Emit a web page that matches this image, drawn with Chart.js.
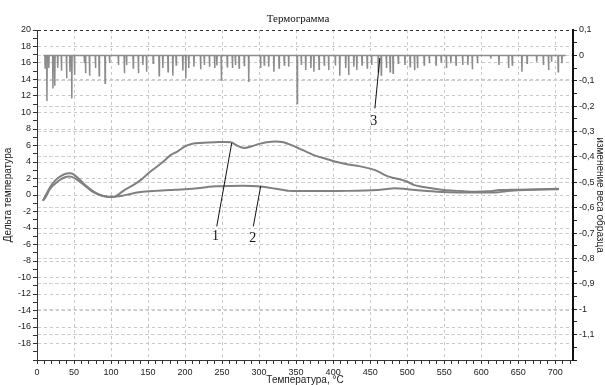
<!DOCTYPE html>
<html>
<head>
<meta charset="utf-8">
<script src="https://cdn.jsdelivr.net/npm/chart.js@4/dist/chart.umd.min.js"></script>
<style>
  html, body { margin: 0; padding: 0; background: #fff; }
  #wrap { width: 605px; height: 385px; }
</style>
</head>
<body>
<div id="wrap"><canvas id="chart" width="605" height="385"></canvas></div>
<script>
// Curve 1 - upper DTA curve (left axis)
const temps1 = [8, 12, 18, 25, 32, 40, 47, 55, 65, 75, 85, 95, 105, 112, 120, 130, 140, 150, 160, 170,
  180, 190, 200, 210, 220, 240, 262, 270, 280, 290, 300, 310, 322, 333, 345, 355, 365, 375, 390, 405,
  420, 435, 450, 460, 470, 480, 490, 500, 510, 520, 535, 550, 570, 590, 610, 625, 650, 680, 705];
const deltaT1 = [-0.7, 0.0, 1.0, 1.8, 2.3, 2.6, 2.6, 2.1, 1.2, 0.5, 0.0, -0.2, -0.2, 0.2, 0.7, 1.2, 1.8, 2.6, 3.3, 4.0,
  4.8, 5.3, 5.9, 6.2, 6.3, 6.4, 6.4, 6.0, 5.7, 5.9, 6.2, 6.4, 6.5, 6.4, 6.0, 5.6, 5.2, 4.8, 4.4, 4.0,
  3.7, 3.5, 3.2, 2.9, 2.4, 2.1, 1.9, 1.6, 1.2, 1.0, 0.8, 0.6, 0.5, 0.4, 0.45, 0.6, 0.65, 0.7, 0.75];

// Curve 2 - lower DTA curve (left axis)
const temps2 = [8, 12, 18, 25, 32, 40, 47, 55, 65, 75, 85, 95, 105, 115, 125, 140, 160, 180, 200, 220,
  240, 260, 290, 305, 320, 340, 380, 420, 460, 480, 495, 510, 540, 570, 600, 620, 640, 660, 705];
const deltaT2 = [-0.7, -0.2, 0.8, 1.4, 1.9, 2.2, 2.2, 1.8, 1.1, 0.4, 0.0, -0.2, -0.2, -0.1, 0.1, 0.35, 0.5, 0.6, 0.7, 0.85,
  1.05, 1.1, 1.1, 1.0, 0.8, 0.5, 0.5, 0.5, 0.6, 0.8, 0.75, 0.6, 0.4, 0.3, 0.3, 0.3, 0.5, 0.6, 0.7];

// Curve 3 - weight change (right axis): flat line at 0 with downward spikes
const weightStart = 9;
const weightEnd = 714;
const spikeTemps = [11, 13.4, 16, 21.5, 24, 28, 33, 40, 44.5, 47, 50.7, 64, 65.6, 71, 79, 84, 92, 98, 110, 118,
  121, 130, 137, 143, 148, 157, 165, 170, 177, 183.5, 188, 197, 201, 205, 212, 221, 226, 233, 240, 243,
  249, 257, 264, 268, 273, 280, 286, 302, 307, 313, 320, 327, 334, 340, 351.5, 357, 363, 370, 374, 381,
  388, 394, 403, 409, 417, 421, 428, 432, 439, 446, 452, 461, 465, 472, 477, 481, 488, 497, 504, 510,
  514, 523, 530, 539, 546, 553, 559, 566, 575, 582, 588, 595, 613, 624, 637, 642, 655, 662, 675, 684,
  691, 695, 704, 709];
const spikeDepths = [-0.05, -0.18, -0.05, -0.13, -0.12, -0.05, -0.06, -0.09, -0.064, -0.17, -0.077, -0.03, -0.07, -0.08, -0.05, -0.08, -0.11, -0.03, -0.038, -0.07,
  -0.038, -0.05, -0.07, -0.038, -0.064, -0.031, -0.08, -0.05, -0.064, -0.08, -0.038, -0.06, -0.09, -0.05, -0.045, -0.055, -0.038, -0.045, -0.05, -0.04,
  -0.1, -0.045, -0.05, -0.038, -0.05, -0.04, -0.105, -0.05, -0.038, -0.045, -0.064, -0.05, -0.038, -0.045, -0.19, -0.038, -0.058, -0.05, -0.064, -0.055,
  -0.038, -0.058, -0.04, -0.08, -0.05, -0.077, -0.045, -0.058, -0.038, -0.05, -0.038, -0.064, -0.077, -0.05, -0.064, -0.07, -0.031, -0.038, -0.045, -0.058,
  -0.05, -0.038, -0.031, -0.038, -0.025, -0.05, -0.031, -0.038, -0.038, -0.038, -0.055, -0.031, -0.012, -0.038, -0.05, -0.038, -0.064, -0.031, -0.025, -0.038,
  -0.058, -0.025, -0.064, -0.031];

// Numbered callouts, in data units of the left axis
const calloutLabels = ["1", "2", "3"];
const calloutText = [[241, -5.0], [291.5, -5.2], [455, 8.9]];
const calloutFrom = [[242.8, -3.8], [292.2, -3.8], [456.4, 10.5]];
const calloutTo = [[263, 6.3], [302.2, 1.1], [463.1, 16.6]];

const toPoints = (xs, ys) => xs.map((x, i) => ({ x: x, y: ys[i] }));

function weightPoints() {
  const pts = [{ x: weightStart, y: 0 }];
  spikeTemps.forEach((t, i) => {
    pts.push({ x: t - 0.4, y: 0 });
    pts.push({ x: t, y: spikeDepths[i] });
    pts.push({ x: t + 0.4, y: 0 });
  });
  pts.push({ x: weightEnd, y: 0 });
  return pts;
}

const fmt = (v) => String(Math.round(v * 10) / 10).replace(".", ",");
const near = (a, b) => Math.abs(a - b) < 1e-6;

// Title text and the numbered callouts
const extrasPlugin = {
  id: "extras",
  afterDraw(chart) {
    const ctx = chart.ctx;
    const x = chart.scales.x;
    const y = chart.scales.y;
    ctx.save();
    ctx.fillStyle = "#111";
    ctx.font = "11px 'Liberation Serif', serif";
    ctx.textAlign = "center";
    ctx.textBaseline = "middle";
    ctx.fillText("Термограмма", 298, 19);

    ctx.strokeStyle = "#111";
    ctx.lineWidth = 1;
    ctx.font = "14px 'Liberation Serif', serif";
    calloutLabels.forEach((lbl, i) => {
      ctx.beginPath();
      ctx.moveTo(x.getPixelForValue(calloutFrom[i][0]), y.getPixelForValue(calloutFrom[i][1]));
      ctx.lineTo(x.getPixelForValue(calloutTo[i][0]), y.getPixelForValue(calloutTo[i][1]));
      ctx.stroke();
      ctx.fillText(lbl, x.getPixelForValue(calloutText[i][0]), y.getPixelForValue(calloutText[i][1]));
    });
    ctx.restore();
  },
};

const tickFont = { family: "'Liberation Sans', Arial, sans-serif", size: 9 };

new Chart(document.getElementById("chart").getContext("2d"), {
  type: "line",
  data: {
    datasets: [
      {
        data: toPoints(temps1, deltaT1),
        borderColor: "#808080",
        borderWidth: 2,
        pointRadius: 0,
        tension: 0.3,
        yAxisID: "y",
      },
      {
        data: toPoints(temps2, deltaT2),
        borderColor: "#808080",
        borderWidth: 2,
        pointRadius: 0,
        tension: 0.3,
        yAxisID: "y",
      },
      {
        data: weightPoints(),
        borderColor: "#8c8c8c",
        borderWidth: 1.5,
        pointRadius: 0,
        tension: 0,
        yAxisID: "y2",
      },
    ],
  },
  options: {
    responsive: false,
    animation: false,
    layout: { padding: { top: 30, left: 0, right: 0, bottom: 0 } },
    plugins: {
      legend: { display: false },
      tooltip: { enabled: false },
      title: { display: false },
    },
    scales: {
      x: {
        type: "linear",
        min: 0,
        max: 724,
        afterBuildTicks: (scale) => {
          const ticks = [];
          for (let v = 0; v <= 720; v += 10) ticks.push({ value: v });
          scale.ticks = ticks;
        },
        afterFit: (scale) => { scale.height = 25; },
        ticks: {
          autoSkip: false,
          maxRotation: 0,
          padding: 3,
          color: "#222",
          font: tickFont,
          callback: (v) => (v % 50 === 0 ? String(v) : ""),
        },
        grid: {
          color: (c) => (c.tick && c.tick.value % 50 === 0 && c.tick.value > 0 ? "#c8c8c8" : "transparent"),
          tickColor: "#333",
          tickLength: 4,
        },
        border: { color: "#333", width: 1, dash: [3, 3] },
        title: {
          display: true,
          text: "Температура, °C",
          color: "#222",
          font: { family: "'Liberation Sans', Arial, sans-serif", size: 10, lineHeight: 1 },
          padding: { top: 0, bottom: 0 },
        },
      },
      y: {
        position: "left",
        min: -20,
        max: 20,
        afterBuildTicks: (scale) => {
          const ticks = [];
          for (let v = -20; v <= 20; v += 1) ticks.push({ value: v });
          scale.ticks = ticks;
        },
        afterFit: (scale) => { scale.width = 37; },
        ticks: {
          autoSkip: false,
          padding: 2,
          color: "#222",
          font: tickFont,
          callback: (v) => (v % 2 === 0 && v > -20 ? String(v) : ""),
        },
        grid: {
          color: (c) => {
            if (!c.tick) return "transparent";
            if (c.tick.value === 20) return "#333";
            return c.tick.value % 2 === 0 && c.tick.value > -20 ? "#c8c8c8" : "transparent";
          },
          tickColor: "#333",
          tickLength: 4,
        },
        border: { color: "#333", width: 1, dash: [3, 3] },
        title: {
          display: true,
          text: "Дельта температура",
          color: "#222",
          font: { family: "'Liberation Sans', Arial, sans-serif", size: 10, lineHeight: 1 },
          padding: { top: 3, bottom: 0 },
        },
      },
      y2: {
        position: "right",
        min: -1.2,
        max: 0.1,
        afterBuildTicks: (scale) => {
          const ticks = [];
          for (let k = -24; k <= 2; k++) ticks.push({ value: k * 0.05 });
          scale.ticks = ticks;
        },
        afterFit: (scale) => { scale.width = 32; },
        ticks: {
          autoSkip: false,
          padding: 2,
          color: "#222",
          font: tickFont,
          callback: (v) => {
            const isMajor = near(v * 10, Math.round(v * 10));
            return isMajor && v > -1.15 ? fmt(v) : "";
          },
        },
        grid: {
          color: (c) => {
            if (!c.tick) return "transparent";
            const v = c.tick.value;
            const isMajor = near(v * 10, Math.round(v * 10));
            return isMajor && v < 0.05 && v > -1.15 ? "#d0d0d0" : "transparent";
          },
          tickColor: "#222",
          tickLength: 4,
        },
        border: { color: "#111", width: 2, dash: [4, 2] },
        title: {
          display: true,
          text: "изменение веса образца",
          color: "#222",
          font: { family: "'Liberation Sans', Arial, sans-serif", size: 10, lineHeight: 1 },
          padding: { top: 0, bottom: 0 },
        },
      },
    },
  },
  plugins: [extrasPlugin],
});
</script>
</body>
</html>
